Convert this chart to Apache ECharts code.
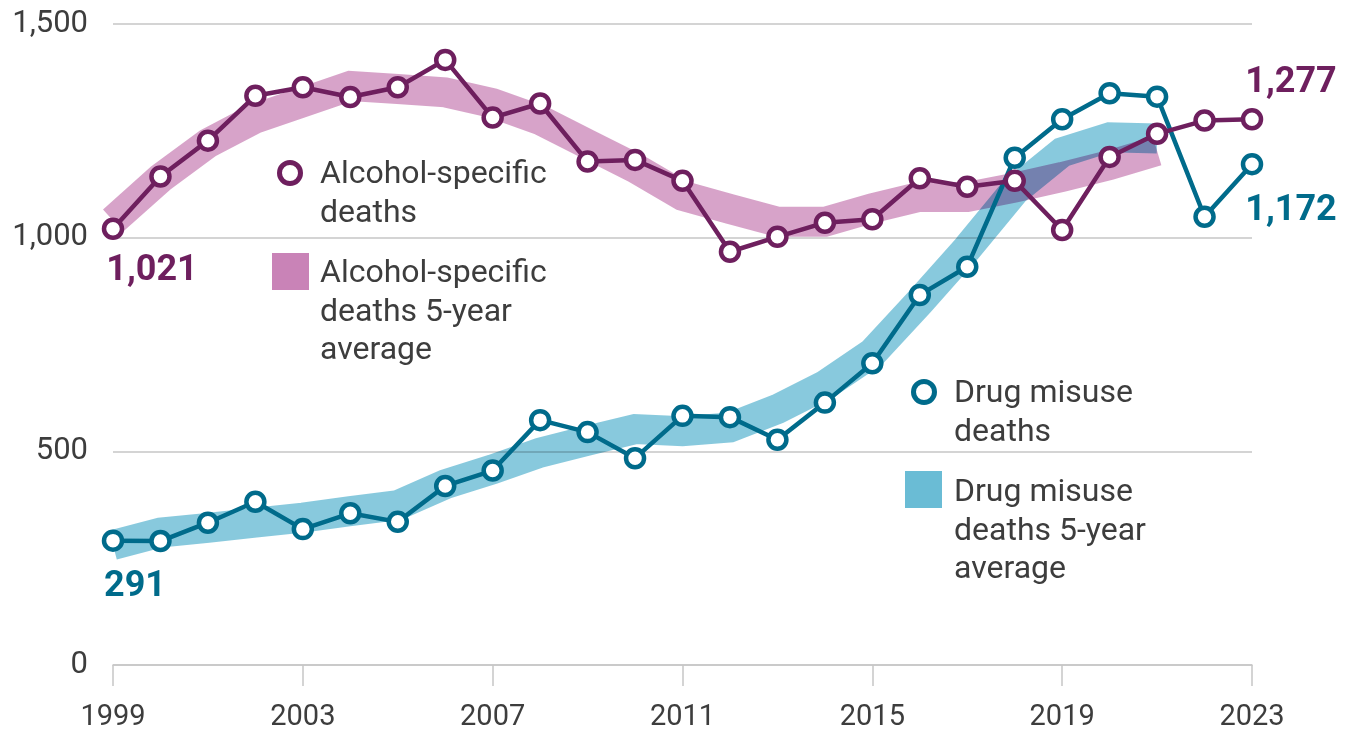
<!DOCTYPE html>
<html>
<head>
<meta charset="utf-8">
<script src="https://cdn.jsdelivr.net/npm/echarts@6/dist/echarts.min.js"></script>
<style>
html,body{margin:0;padding:0;background:#fff;}
#c{width:1351px;height:733px;}
</style>
</head>
<body>
<div id="c"></div>
<script>
const years = ['1999','2000','2001','2002','2003','2004','2005','2006','2007','2008','2009','2010','2011','2012','2013','2014','2015','2016','2017','2018','2019','2020','2021','2022','2023'];
const alcohol = [1021,1143,1227,1332,1352,1329,1352,1416,1281,1314,1178,1182,1133,967,1002,1035,1043,1139,1119,1133,1018,1189,1243,1274,1277];
const drug = [291,290,333,382,318,355,335,419,455,573,545,484,583,580,527,614,706,866,932,1187,1277,1338,1330,1049,1172];
const alcoholAvg = [1040,1139,1221,1279,1317,1355,1348,1340,1315,1275,1219,1163,1098,1067,1037,1037,1069,1096,1095,1117,1142,1170,1203];
const drugAvg = [281,310,321,333,345,360,374,423,458,497,525,552,547,556,599,655,730,850,975,1110,1200,1235,1232];
const yTicks = [0,500,1000,1500];

const PURPLE = '#6e1f5e';
const TEAL = '#006b8b';
const PINK = '#c983b7';
const BLUE = '#6abcd5';
const TEXT = '#3d3d3d';
const FONT = 'Roboto';

function labelled(arr, idx, cfg) {
  return arr.map((v, i) => i === idx ? {value: v, label: Object.assign({show: true}, cfg)} : v);
}

const chart = echarts.init(document.getElementById('c'), null, {renderer: 'canvas'});
const labelBase = {fontFamily: FONT, fontWeight: 'bold', fontSize: 36, formatter: p => p.value.toLocaleString('en-GB')};

chart.setOption({
  animation: false,
  grid: {left: 113, right: 99, top: 24, bottom: 68, containLabel: false},
  xAxis: {
    type: 'category', data: years, boundaryGap: false,
    axisLine: {lineStyle: {color: '#c6c6c6', width: 1.5}},
    axisTick: {interval: 3, length: 21, lineStyle: {color: '#c6c6c6', width: 1.5}},
    axisLabel: {interval: 3, color: TEXT, fontFamily: FONT, fontSize: 29, margin: 38}
  },
  yAxis: {
    type: 'value', min: 0, max: 1500, interval: 500,
    axisLine: {show: false}, axisTick: {show: false},
    splitLine: {lineStyle: {color: '#c6c6c6', width: 1.5}},
    axisLabel: {color: TEXT, fontFamily: FONT, fontSize: 31, margin: 25,
      formatter: v => v.toLocaleString('en-GB')}
  },
  series: [
    {name: 'Drug misuse deaths 5-year average', type: 'line', data: drugAvg, symbol: 'none',
      blendMode: 'multiply', silent: true,
      lineStyle: {color: BLUE, width: 30, opacity: 0.8, join: 'miter', miterLimit: 6, cap: 'butt'}},
    {name: 'Alcohol-specific deaths 5-year average', type: 'line', data: alcoholAvg, symbol: 'none',
      blendMode: 'multiply', silent: true,
      lineStyle: {color: PINK, width: 30, opacity: 0.74, join: 'miter', miterLimit: 6, cap: 'butt'}},
    {name: 'Drug misuse deaths', type: 'line',
      data: labelled(labelled(drug, 0, Object.assign({}, labelBase, {position: 'bottom', distance: 8, offset: [22, 9], color: TEAL})), 24,
        Object.assign({}, labelBase, {position: 'bottom', distance: 8, offset: [39, 10], color: TEAL})),
      symbol: 'circle', symbolSize: 18, showAllSymbol: true,
      itemStyle: {color: '#fff', borderColor: TEAL, borderWidth: 4.5},
      lineStyle: {color: TEAL, width: 4.5}},
    {name: 'Alcohol-specific deaths', type: 'line',
      data: labelled(labelled(alcohol, 0, Object.assign({}, labelBase, {position: 'bottom', distance: 8, offset: [39, 5], color: PURPLE})), 24,
        Object.assign({}, labelBase, {position: 'top', distance: 8, offset: [39, 1], color: PURPLE})),
      symbol: 'circle', symbolSize: 18, showAllSymbol: true,
      itemStyle: {color: '#fff', borderColor: PURPLE, borderWidth: 4.5},
      lineStyle: {color: PURPLE, width: 4.5}}
  ],
  graphic: [
    {type: 'circle', shape: {cx: 290, cy: 173, r: 10.5}, style: {fill: '#fff', stroke: PURPLE, lineWidth: 5}},
    {type: 'text', left: 320, top: 156, style: {text: 'Alcohol-specific\ndeaths', fill: TEXT, font: '32px Roboto', lineHeight: 38.5}},
    {type: 'rect', shape: {x: 272, y: 253, width: 37, height: 37}, style: {fill: PINK}},
    {type: 'text', left: 320, top: 255, style: {text: 'Alcohol-specific\ndeaths 5-year\naverage', fill: TEXT, font: '32px Roboto', lineHeight: 38.5}},
    {type: 'circle', shape: {cx: 924, cy: 392, r: 10.5}, style: {fill: '#fff', stroke: TEAL, lineWidth: 5}},
    {type: 'text', left: 954, top: 375, style: {text: 'Drug misuse\ndeaths', fill: TEXT, font: '32px Roboto', lineHeight: 38.5}},
    {type: 'rect', shape: {x: 905, y: 471, width: 37, height: 37}, style: {fill: BLUE}},
    {type: 'text', left: 954, top: 474, style: {text: 'Drug misuse\ndeaths 5-year\naverage', fill: TEXT, font: '32px Roboto', lineHeight: 38.5}}
  ]
});
</script>
</body>
</html>
